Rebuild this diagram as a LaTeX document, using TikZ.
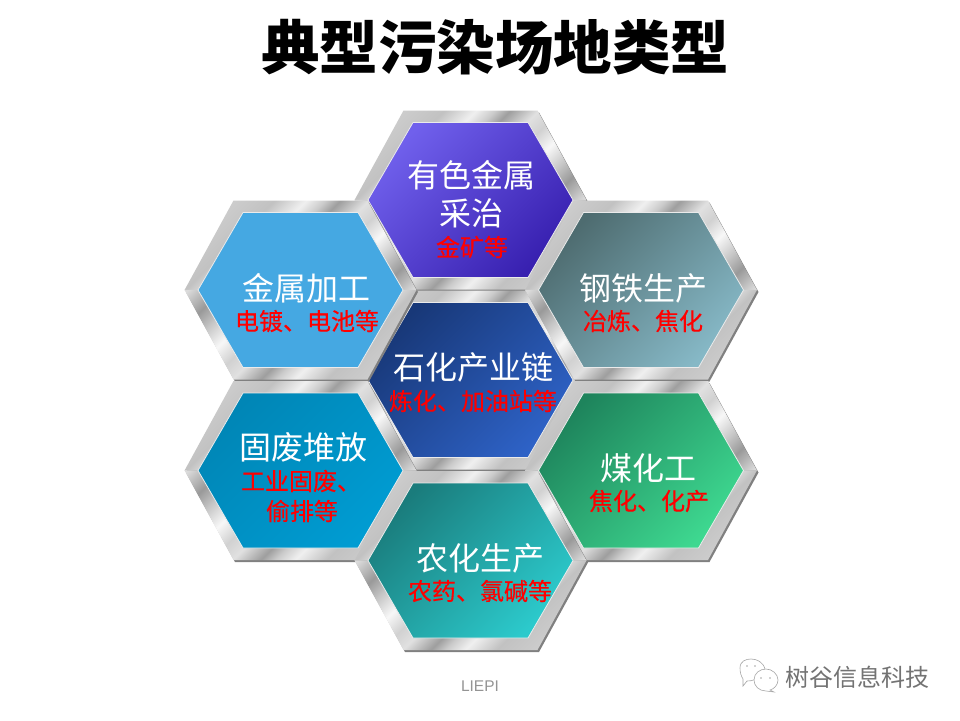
\documentclass[tikz,border=0pt]{standalone}
\usepackage{fontspec}
\setmainfont{Liberation Sans}
\newfontfamily\cjk{Noto Sans CJK SC}
\newfontfamily\cjkred[FakeBold=0.35]{Noto Sans CJK SC}
\pgfdeclarehorizontalshading{framesh}{100bp}{
 color(0bp)=(white!80!black);
 color(32.8bp)=(white!80!black);
 color(37.2bp)=(white!76!black);
 color(40.7bp)=(white!94!black);
 color(42.8bp)=(white!80!black);
 color(44.5bp)=(white!62!black);
 color(47.6bp)=(white!88!black);
 color(50bp)=(white!82!black);
 color(52.9bp)=(white!97!black);
 color(56.1bp)=(white!78!black);
 color(58.8bp)=(white!60!black);
 color(62.5bp)=(white!86!black);
 color(100bp)=(white!86!black)}
\definecolor{aTop}{HTML}{7060EC}\definecolor{bTop}{HTML}{3820B0}
\definecolor{aLU}{HTML}{45A8E2}\definecolor{bLU}{HTML}{45A8E2}
\definecolor{aRU}{HTML}{4E6C70}\definecolor{bRU}{HTML}{86B8C6}
\definecolor{aC}{HTML}{183878}\definecolor{bC}{HTML}{2E62C6}
\definecolor{aLL}{HTML}{0086B6}\definecolor{bLL}{HTML}{009CD2}
\definecolor{aRL}{HTML}{1E845C}\definecolor{bRL}{HTML}{3ED890}
\definecolor{aB}{HTML}{1A7C7C}\definecolor{bB}{HTML}{2CCACC}
\tikzset{
 big/.style={text=white,inner sep=0pt,font=\cjk\fontsize{32}{32}\selectfont},
 small/.style={text=red,inner sep=0pt,font=\cjkred\fontsize{24}{24}\selectfont},
}
\newcommand{\hexcell}[4]{%
 \begin{scope}[shift={(#1,#2)}]
  \fill[black!50,shift={(1.5,2)}] (-116,0)--(-67,-89.5)--(67,-89.5)--(116,0)--(67,89.5)--(-67,89.5)--cycle;
  \begin{scope}
   \clip (-116,0.1)--(-67,-89.5)--(67,-89.5)--(116,0.1)--cycle;
   \shade[shading=framesh,shading angle=-45] (-160,-160) rectangle (160,160);
  \end{scope}
  \begin{scope}
   \clip (-116,-0.1)--(-67,89.5)--(67,89.5)--(116,-0.1)--cycle;
   \shade[shading=framesh,shading angle=135] (-160,-160) rectangle (160,160);
  \end{scope}
  \shade[top color=#3,bottom color=#4,shading angle=45]
    (-102.5,0)--(-57.5,-77.5)--(57.5,-77.5)--(102.5,0)--(57.5,77.5)--(-57.5,77.5)--cycle;
  \draw[white!92!black,line width=0.8pt]
    (-102.5,0)--(-57.5,-77.5)--(57.5,-77.5)--(102.5,0)--(57.5,77.5)--(-57.5,77.5)--cycle;
 \end{scope}}
\begin{document}
\begin{tikzpicture}[x=1pt,y=-1pt]
\useasboundingbox (0,0) rectangle (960,720);
\fill[white] (0,0) rectangle (960,720);
\hexcell{470.5}{200}{aTop}{bTop}
\hexcell{470.5}{380}{aC}{bC}
\hexcell{300.5}{290}{aLU}{bLU}
\hexcell{641}{290}{aRU}{bRU}
\hexcell{300.5}{470.5}{aLL}{bLL}
\hexcell{641}{470.5}{aRL}{bRL}
\hexcell{470.5}{560.5}{aB}{bB}
\node[inner sep=0pt,font=\cjk\bfseries\fontsize{58.5}{58.5}\selectfont] (title) at (495,47) {典型污染场地类型};
\node[big] (t1a) at (471,175) {有色金属};
\node[big] (t1b) at (471,213) {采治};
\node[small] (t1c) at (472,247) {金矿等};
\node[big] (t2a) at (306,288) {金属加工};
\node[small] (t2b) at (307,321) {电镀、电池等};
\node[big] (t3a) at (643,288) {钢铁生产};
\node[small] (t3b) at (643,321) {冶炼、焦化};
\node[big] (t4a) at (473,367) {石化产业链};
\node[small] (t4b) at (473,401) {炼化、加油站等};
\node[big] (t5a) at (303,447) {固废堆放};
\node[small] (t5b) at (301,481) {工业固废、};
\node[small] (t5c) at (302,511) {偷排等};
\node[big] (t6a) at (648,468) {煤化工};
\node[small] (t6b) at (649,501) {焦化、化产};
\node[big] (t7a) at (480,558) {农化生产};
\node[small] (t7b) at (480,591) {农药、氯碱等};
\node[inner sep=0pt,text=black!42,font=\fontsize{15.5}{15.5}\selectfont] (liepi) at (480,686) {LIEPI};
\node[inner sep=0pt,text=black!55,font=\cjk\fontsize{24}{24}\selectfont] (brand) at (857,677) {树谷信息科技};
% WeChat mark
\begin{scope}[black!35,line width=0.6pt]
 \draw[fill=white] (740,668) .. controls (740,661) and (746,659) .. (751,659) .. controls (757,659) and (763,662) .. (765,669) .. controls (760,680) and (752,681) .. (747,681) -- (743,686) -- (743,679) .. controls (741,676) and (740,672) .. (740,668) -- cycle;
 \draw[fill=white] (754,680) .. controls (754,673) and (760,669) .. (766,669) .. controls (772,669) and (778,674) .. (778,680) .. controls (778,685) and (774,689) .. (770,690) -- (774,692) -- (766,691) .. controls (759,691) and (754,686) .. (754,680) -- cycle;
 \fill (747,666) circle (0.9) (755,666) circle (0.9) (761,678) circle (0.9) (770,678) circle (0.9);
\end{scope}
\end{tikzpicture}
\end{document}
